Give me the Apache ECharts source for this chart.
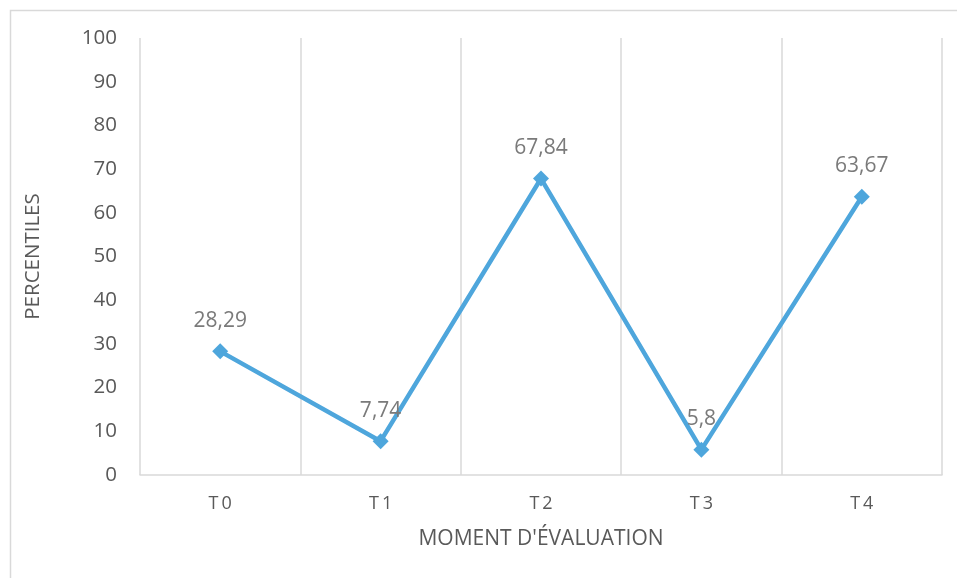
<!DOCTYPE html>
<html>
<head>
<meta charset="utf-8">
<script src="https://cdn.jsdelivr.net/npm/echarts@6/dist/echarts.min.js"></script>
<style>
html,body{margin:0;padding:0;background:#fff;}
#c{width:957px;height:578px;}
</style>
</head>
<body>
<div id="c"></div>
<script>
var categories = ['T0', 'T1', 'T2', 'T3', 'T4'];
var percentiles = [28.29, 7.74, 67.84, 5.8, 63.67];
var yTicks = [0, 10, 20, 30, 40, 50, 60, 70, 80, 90, 100];

var chart = echarts.init(document.getElementById('c'));
var font = 'Open Sans';
chart.setOption({
  animation: false,
  backgroundColor: '#fff',
  graphic: [{
    type: 'rect', shape: {x: 10.5, y: 10.5, width: 1000, height: 1000},
    style: {fill: 'none', stroke: '#d9d9d9', lineWidth: 1.5}, silent: true
  }],
  grid: {left: 140, right: 15, top: 38, bottom: 103},
  xAxis: {
    type: 'category',
    data: categories,
    boundaryGap: true,
    name: "MOMENT D'ÉVALUATION",
    nameLocation: 'middle',
    nameGap: 54,
    nameTextStyle: {fontFamily: font, fontSize: 21, color: '#595959'},
    axisLine: {lineStyle: {color: '#d9d9d9', width: 1.5}},
    axisTick: {show: false},
    axisLabel: {fontFamily: font, fontSize: 18, color: '#595959', margin: 20,
      formatter: function (v) { return v.split('').join('\u2009'); }},
    splitLine: {show: true, lineStyle: {color: '#d9d9d9', width: 1.5}}
  },
  yAxis: {
    type: 'value',
    min: yTicks[0],
    max: yTicks[yTicks.length - 1],
    interval: 10,
    name: 'PERCENTILES',
    nameLocation: 'middle',
    nameGap: 96,
    nameTextStyle: {fontFamily: font, fontSize: 20.5, color: '#595959'},
    axisLine: {show: false},
    axisTick: {show: false},
    axisLabel: {fontFamily: font, fontSize: 20.5, color: '#595959', margin: 23, padding: [4, 0, 0, 0]},
    splitLine: {show: false}
  },
  series: [{
    type: 'line',
    data: percentiles,
    symbol: 'diamond',
    symbolSize: 16,
    lineStyle: {color: '#4EA6DC', width: 4.5},
    itemStyle: {color: '#4EA6DC'},
    label: {
      show: true, position: 'top', distance: 12,
      fontFamily: font, fontSize: 21, color: '#7a7a7a',
      formatter: function (p) { return String(p.value).replace('.', ','); }
    }
  }]
});
</script>
</body>
</html>
